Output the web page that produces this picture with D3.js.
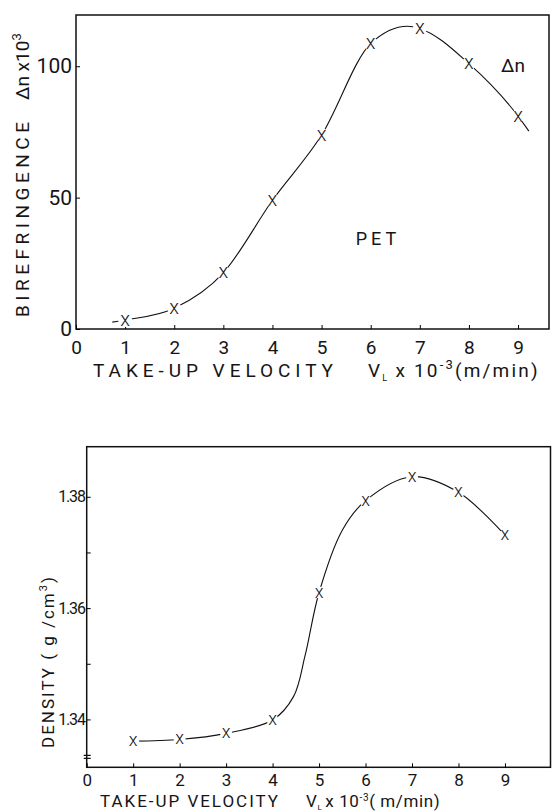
<!DOCTYPE html>
<html lang="en">
<head>
  <meta charset="utf-8">
  <script src="https://d3js.org/d3.v7.min.js"></script>
  <style>
    body { margin: 0; background: #fff; }
    text { font-family: Roboto, "DejaVu Sans", sans-serif; font-weight: 400; fill: #151515; }
  </style>
</head>
<body>
  <div id="my_dataviz"></div>
  <script>

    // ---- data: top panel (birefringence) ----
    const velocity = [1, 2, 3, 4, 5, 6, 7, 8, 9];
    const birefringence = [3.4, 7.9, 21.4, 49, 73.8, 108.6, 114.3, 101, 81];
    // the hand drawn curve (it runs a bit past the end points)
    const birefCurveV = [0.74, 1, 2, 3, 4, 5, 6, 6.75, 7, 8, 9, 9.22];
    const birefCurveN = [2.6, 3.4, 7.9, 21.4, 49, 73.8, 108.6, 115.2, 114.3, 101, 81, 75.3];
    const birefTicksX = [0, 1, 2, 3, 4, 5, 6, 7, 8, 9];
    const birefTicksY = [0, 50, 100];

    // ---- data: bottom panel (density) ----
    const density = [1.3361, 1.3364, 1.3375, 1.3399, 1.3628, 1.3793, 1.3836, 1.3808, 1.3731];
    const densCurveV = [1, 2, 3, 4, 4.45, 4.7, 5, 5.5, 6, 7, 8, 9];
    const densCurveD = [1.3361, 1.3364, 1.3375, 1.3399, 1.3441, 1.3515, 1.3628, 1.374, 1.3793, 1.3836, 1.3808, 1.3731];
    const densTicksX = [0, 1, 2, 3, 4, 5, 6, 7, 8, 9];
    const densTicksY = [1.34, 1.35, 1.36, 1.37, 1.38];
    const densLabelsY = [1.34, 1.36, 1.38];

    const svg = d3.select("#my_dataviz")
      .append("svg")
        .attr("width", 552)
        .attr("height", 812);

    // ================= TOP PANEL =================
    const x1 = d3.scaleLinear().domain([0, 9.63]).range([76, 549]);
    const y1 = d3.scaleLinear().domain([0, 119.5]).range([329, 15]);

    svg.append("rect")
      .attr("x", x1(0)).attr("y", y1(119.5))
      .attr("width", x1(9.63) - x1(0)).attr("height", y1(0) - y1(119.5))
      .attr("fill", "none").attr("stroke", "#111").attr("stroke-width", 1.5);

    const ax1 = svg.append("g")
      .attr("transform", `translate(0,${y1(0)})`)
      .call(d3.axisBottom(x1).tickValues(birefTicksX).tickSize(-4).tickPadding(12).tickFormat(d3.format("d")));
    ax1.select(".domain").remove();
    ax1.selectAll("text").style("font-size", "19px");

    const ay1 = svg.append("g")
      .attr("transform", `translate(${x1(0)},0)`)
      .call(d3.axisLeft(y1).tickValues(birefTicksY).tickSize(-4).tickPadding(4).tickFormat(d3.format("d")));
    ay1.select(".domain").remove();
    ay1.selectAll("text").style("font-size", "21px");

    const curve1 = birefCurveV.map((v, i) => [v, birefCurveN[i]]);
    svg.append("path")
      .datum(curve1)
      .attr("fill", "none")
      .attr("stroke", "#111")
      .attr("stroke-width", 1.1)
      .attr("d", d3.line().x(d => x1(d[0])).y(d => y1(d[1])).curve(d3.curveMonotoneX));

    // small gaps round each marker, like the pen drawing
    svg.selectAll(".gap1")
      .data(velocity)
      .join("circle")
        .attr("cx", d => x1(d))
        .attr("cy", (d, i) => y1(birefringence[i]))
        .attr("r", 7)
        .attr("fill", "#fff");

    svg.selectAll(".mark1")
      .data(velocity)
      .join("text")
        .attr("x", d => x1(d))
        .attr("y", (d, i) => y1(birefringence[i]) + 5.5)
        .attr("text-anchor", "middle")
        .style("font-size", "20px")
        .style("font-weight", 300)
        .text("x");

    svg.append("text")
      .attr("x", 513).attr("y", 72)
      .attr("text-anchor", "middle")
      .style("font-size", "19px")
      .text("Δn");

    svg.append("text")
      .attr("x", 378).attr("y", 245)
      .attr("text-anchor", "middle")
      .style("font-size", "18px")
      .style("letter-spacing", "4px")
      .text("PET");

    // axis titles
    svg.append("text")
      .attr("transform", "translate(29,317) rotate(-90)")
      .attr("textLength", 195)
      .attr("lengthAdjust", "spacing")
      .style("font-size", "19px")
      .text("BIREFRINGENCE");

    const yt1 = svg.append("text")
      .attr("transform", "translate(29,100) rotate(-90)")
      .style("font-size", "19px");
    yt1.append("tspan").text("Δn x10");
    yt1.append("tspan").attr("dy", -8).style("font-size", "13px").text("3");

    svg.append("text")
      .attr("x", 93).attr("y", 377)
      .attr("textLength", 240)
      .attr("lengthAdjust", "spacing")
      .style("font-size", "19px")
      .text("TAKE-UP  VELOCITY");

    const xt1 = svg.append("text")
      .attr("x", 368).attr("y", 377)
      .style("font-size", "19px")
      .style("letter-spacing", "2.2px");
    xt1.append("tspan").text("V");
    xt1.append("tspan").attr("dy", 4).style("font-size", "9px").text("L");
    xt1.append("tspan").attr("dy", -4).attr("dx", 6).text("x 10");
    xt1.append("tspan").attr("dy", -8).style("font-size", "13px").text("-3");
    xt1.append("tspan").attr("dy", 8).text("(m/min)");

    // ================= BOTTOM PANEL =================
    const x2 = d3.scaleLinear().domain([0, 9.98]).range([86.7, 550.5]);
    const y2 = d3.scaleLinear().domain([1.3314, 1.389]).range([767.3, 446.7]);

    svg.append("rect")
      .attr("x", x2(0)).attr("y", y2(1.389))
      .attr("width", x2(9.98) - x2(0)).attr("height", y2(1.3314) - y2(1.389))
      .attr("fill", "none").attr("stroke", "#111").attr("stroke-width", 1.5);

    const ax2 = svg.append("g")
      .attr("transform", `translate(0,${y2(1.3314)})`)
      .call(d3.axisBottom(x2).tickValues(densTicksX).tickSize(-4).tickPadding(7).tickFormat(d3.format("d")));
    ax2.select(".domain").remove();
    ax2.selectAll("text").style("font-size", "17px");

    const ay2 = svg.append("g")
      .attr("transform", `translate(${x2(0)},0)`)
      .call(d3.axisLeft(y2).tickValues(densTicksY).tickSize(-4).tickPadding(2)
        .tickFormat(d => densLabelsY.includes(d) ? d.toFixed(2) : ""));
    ay2.select(".domain").remove();
    ay2.selectAll("text").style("font-size", "16px").style("letter-spacing", "-1.2px");

    // axis break mark at the foot of the density axis
    const brk = y2(1.3314) - 12;
    svg.append("path")
      .attr("d", `M${x2(0) - 3},${brk}H${x2(0) + 4}M${x2(0) - 3},${brk + 3}H${x2(0) + 4}`)
      .attr("stroke", "#111").attr("stroke-width", 1.2);

    const curve2 = densCurveV.map((v, i) => [v, densCurveD[i]]);
    svg.append("path")
      .datum(curve2)
      .attr("fill", "none")
      .attr("stroke", "#111")
      .attr("stroke-width", 1.1)
      .attr("d", d3.line().x(d => x2(d[0])).y(d => y2(d[1])).curve(d3.curveCatmullRom.alpha(0.5)));

    svg.selectAll(".gap2")
      .data(velocity)
      .join("circle")
        .attr("cx", d => x2(d))
        .attr("cy", (d, i) => y2(density[i]))
        .attr("r", 6)
        .attr("fill", "#fff");

    svg.selectAll(".mark2")
      .data(velocity)
      .join("text")
        .attr("x", d => x2(d))
        .attr("y", (d, i) => y2(density[i]) + 5)
        .attr("text-anchor", "middle")
        .style("font-size", "18px")
        .style("font-weight", 300)
        .text("x");

    const yt2 = svg.append("text")
      .attr("transform", "translate(54,748) rotate(-90)")
      .style("font-size", "17px")
      .style("letter-spacing", "2px");
    yt2.append("tspan").text("DENSITY   ( g /cm");
    yt2.append("tspan").attr("dy", -7).style("font-size", "11px").text("3");
    yt2.append("tspan").attr("dy", 7).text(")");

    svg.append("text")
      .attr("x", 100).attr("y", 807)
      .attr("textLength", 178)
      .attr("lengthAdjust", "spacing")
      .style("font-size", "17px")
      .text("TAKE-UP VELOCITY");

    const xt2 = svg.append("text")
      .attr("x", 306).attr("y", 807)
      .style("font-size", "17px")
      .style("letter-spacing", "0.6px");
    xt2.append("tspan").text("V");
    xt2.append("tspan").attr("dy", 3).style("font-size", "8px").text("L");
    xt2.append("tspan").attr("dy", -3).attr("dx", 3).text("x 10");
    xt2.append("tspan").attr("dy", -6).style("font-size", "10px").text("-3");
    xt2.append("tspan").attr("dy", 6).text("( m/min)");

  </script>
</body>
</html>
